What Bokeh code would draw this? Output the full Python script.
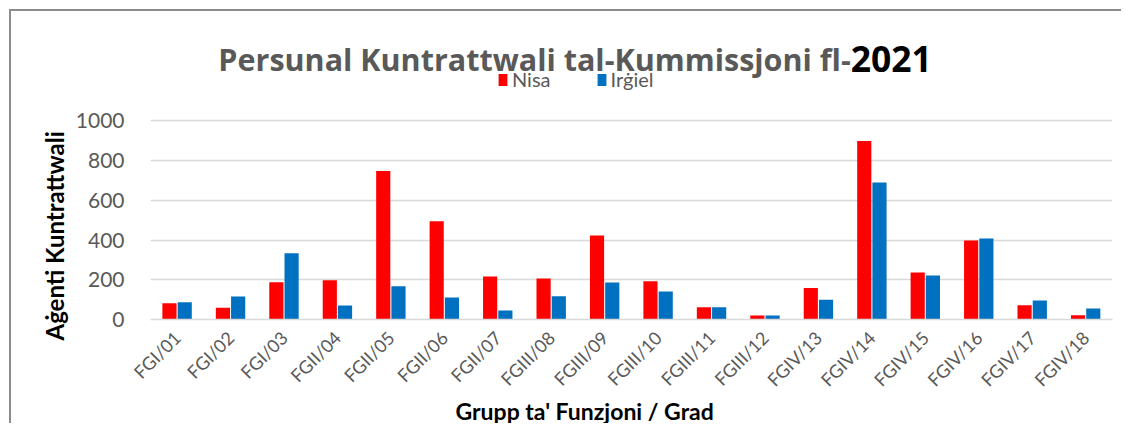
from bokeh.plotting import figure
from bokeh.models import ColumnDataSource, Range1d, Label, Legend, LegendItem, FixedTicker, Title
from bokeh.transform import dodge
from bokeh.embed import file_html
from bokeh.resources import INLINE
import math

categories = ["FGI/01", "FGI/02", "FGI/03", "FGII/04", "FGII/05", "FGII/06", "FGII/07",
              "FGIII/08", "FGIII/09", "FGIII/10", "FGIII/11", "FGIII/12", "FGIV/13",
              "FGIV/14", "FGIV/15", "FGIV/16", "FGIV/17", "FGIV/18"]
nisa = [82, 59, 188, 198, 748, 495, 216, 206, 423, 193, 62, 20, 159, 899, 237, 398, 72, 22]
irgiel = [87, 116, 334, 70, 168, 111, 45, 117, 186, 141, 62, 20, 99, 690, 221, 408, 96, 55]
series_names = ["Nisa", "Irġiel"]
y_ticks = [0, 200, 400, 600, 800, 1000]
title_main = "Persunal Kuntrattwali tal-Kummissjoni fl-"
title_year = "2021"
x_title = "Grupp ta' Funzjoni / Grad"
y_title = "Aġenti Kuntrattwali"

FONT = "Lato"
GREY = "#595959"
PX = 1000 / 198.6  # value units per pixel

src = ColumnDataSource(dict(cat=categories, nisa=nisa, irgiel=irgiel))

p = figure(x_range=categories, y_range=Range1d(0, 308 * PX), width=1112, height=414,
           output_backend="svg", toolbar_location=None,
           min_border_left=139, min_border_right=11, min_border_top=0, min_border_bottom=106)
p.styles = {"margin-left": "9px", "margin-top": "9px",
            "border-top": "2px solid #8c8c8c", "border-left": "2px solid #8c8c8c"}
p.outline_line_color = None
p.background_fill_color = "white"

r1 = p.vbar(x=dodge("cat", -0.145, range=p.x_range), top="nisa", width=0.265, source=src,
            fill_color="#FF0000", line_color=None)
r2 = p.vbar(x=dodge("cat", 0.14, range=p.x_range), top="irgiel", width=0.265, source=src,
            fill_color="#0070C0", line_color=None)

p.xgrid.grid_line_color = None
p.ygrid.grid_line_color = "#D9D9D9"
p.ygrid.grid_line_width = 1.5
p.yaxis.ticker = FixedTicker(ticks=y_ticks)

p.yaxis.axis_line_color = None
p.yaxis.major_tick_line_color = None
p.yaxis.minor_tick_line_color = None
p.yaxis.major_label_text_font = FONT
p.yaxis.major_label_text_font_size = "21px"
p.yaxis.major_label_text_color = GREY
p.yaxis.major_label_standoff = 20

p.xaxis.axis_line_color = "#D9D9D9"
p.xaxis.axis_line_width = 1.5
p.xaxis.major_tick_line_color = None
p.xaxis.minor_tick_line_color = None
p.xaxis.major_label_orientation = math.pi / 4
p.xaxis.major_label_text_font = FONT
p.xaxis.major_label_text_font_size = "18px"
p.xaxis.major_label_text_color = GREY
p.xaxis.major_label_standoff = 9

# axis titles as side-panel titles, placed to match the reference
p.add_layout(Title(text=y_title, align="left", offset=-21, standoff=8,
                   text_font=FONT, text_font_style="bold", text_font_size="24px",
                   text_color="black"), "left")
p.add_layout(Title(text=x_title, align="left", offset=305, standoff=-13,
                   text_font=FONT, text_font_style="bold", text_font_size="23px",
                   text_color="black"), "below")

# chart title, split in two colours at the "fl-" / "2021" join
join_x = (850 - 150) / 53.43
title_y = (319 - 58.5) * PX
p.add_layout(Label(x=join_x, y=title_y, text=title_main, text_align="right",
                   text_baseline="alphabetic", text_font="Open Sans", text_font_style="bold",
                   text_font_size="30.5px", text_color=GREY))
p.add_layout(Label(x=join_x, y=title_y, text=title_year, text_align="left",
                   text_baseline="alphabetic", text_font="Open Sans", text_font_style="bold",
                   text_font_size="35.5px", text_color="black"))

legend = Legend(items=[LegendItem(label=series_names[0], renderers=[r1]),
                       LegendItem(label=series_names[1], renderers=[r2])],
                orientation="horizontal", location=(347, 228), padding=0, margin=0,
                border_line_color=None, background_fill_alpha=0,
                glyph_width=11, glyph_height=15, label_height=15, label_standoff=4, spacing=45,
                label_text_font=FONT, label_text_font_size="20px", label_text_color=GREY)
p.add_layout(legend, "center")

open("out.html", "w").write(file_html(p, INLINE))
